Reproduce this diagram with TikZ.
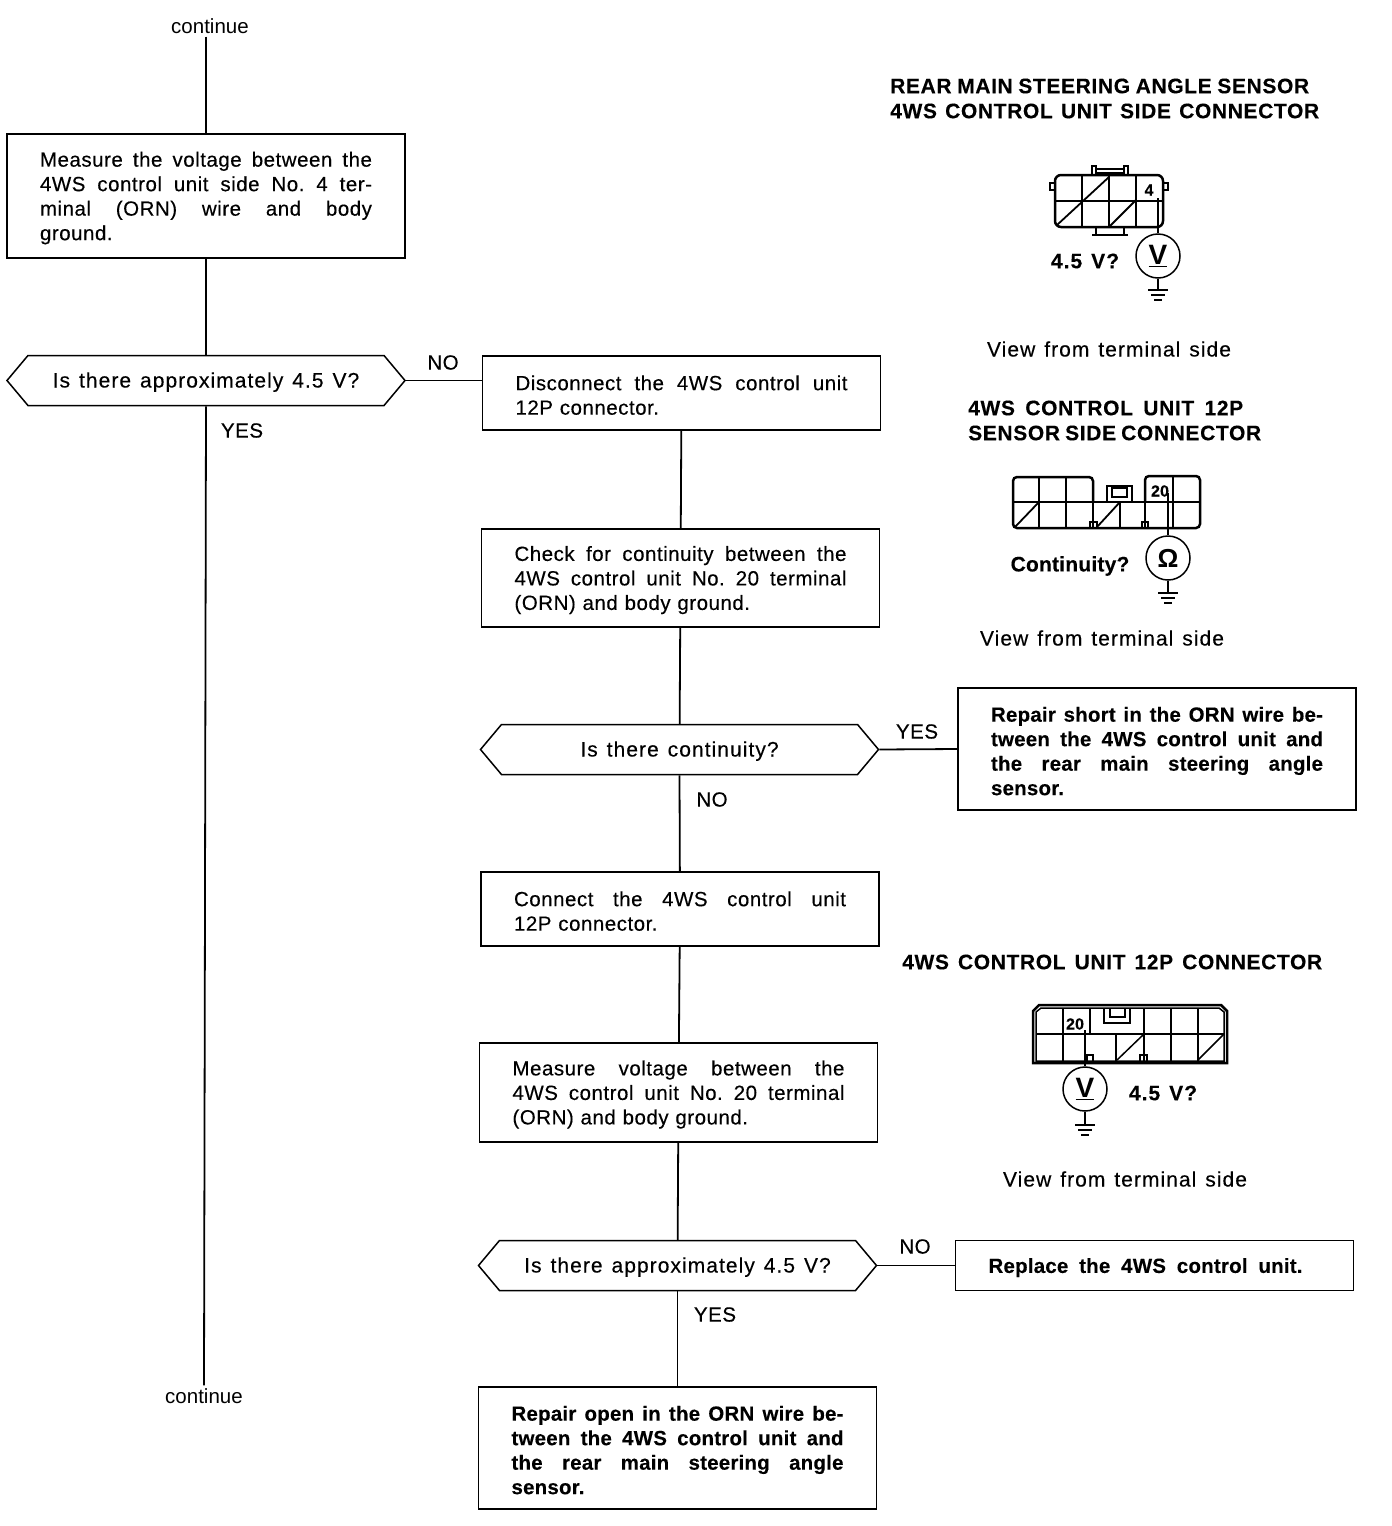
\documentclass[tikz,border=0pt]{standalone}
\usepackage{fontspec}
\setmainfont{Liberation Sans}[LetterSpace=2.5, FakeBold=0.3, BoldFeatures={LetterSpace=1, FakeBold=0.2}]
\newfontfamily\widefont{Liberation Sans}[LetterSpace=5, WordSpace=1.3, FakeBold=0.3, BoldFeatures={LetterSpace=5, WordSpace=1.3, FakeBold=0.2}]
\newfontfamily\headfont{Liberation Sans Bold}[LetterSpace=3, FakeBold=0.2]
\newfontfamily\plainfont{Liberation Sans}
\usetikzlibrary{shapes.symbols}

\newcommand{\wline}[2]{\makebox[#1][s]{\frenchspacing\spaceskip=.28em plus 1fil minus .1em\relax #2}}
\newcommand{\jline}[1]{\wline{332pt}{#1}\\}

\tikzset{
  txt/.style={font=\fontsize{20.5}{24.5}\selectfont, inner sep=0pt},
  widetxt/.style={font=\fontsize{21}{24.5}\selectfont\widefont, inner sep=0pt},
  boldtxt/.style={font=\fontsize{20.5}{24.5}\selectfont\bfseries},
  readout/.style={inner sep=0pt, font=\fontsize{21}{24}\selectfont\widefont\bfseries},
  flowbox/.style={draw, line width=1.8pt, txt, text width=332pt, inner xsep=33pt, inner ysep=0pt, align=left,
    execute at begin node={\rule{0pt}{19pt}}},
  askbox/.style={draw, line width=1.5pt, widetxt, signal, signal to=west and east, signal pointer angle=100,
    minimum width=398pt, minimum height=50pt, inner xsep=0pt, text height=14pt, text depth=0pt},
  heading/.style={inner sep=0pt, font=\fontsize{21}{25}\selectfont\headfont, align=left, anchor=west},
  meter/.style={draw, line width=1.5pt, circle, minimum size=44pt, inner sep=0pt, font=\fontsize{28}{28}\selectfont\plainfont\bfseries},
  pin/.style={inner sep=0pt, font=\fontsize{16}{16}\selectfont\bfseries},
  wire/.style={line width=1.8pt},
  heavy wire/.style={line width=2.5pt},
  thin wire/.style={line width=1.5pt}
}

\newcommand{\grnd}[1]{
  \draw[thin wire] (#1) ++(-10,0) -- ++(20,0);
  \draw[thin wire] (#1) ++(-7,5) -- ++(14,0);
  \draw[thin wire] (#1) ++(-4,10) -- ++(8,0);
}

\begin{document}
\begin{tikzpicture}[x=1pt, y=-1pt]
  \useasboundingbox (0,0) rectangle (1392,1526);

  %% left column
  \node[font=\fontsize{20.5}{24}\selectfont\plainfont, inner sep=3pt] (conttop) at (210,26) {continue};
  \node[flowbox, minimum height=124pt] (measure) at (206,196) {%
    \jline{Measure the voltage between the}
    \jline{4WS control unit side No. 4 ter-}
    \jline{minal (ORN) wire and body}
    ground.};
  \node[askbox] (askfour) at (206,380.5) {Is there approximately 4.5 V?};
  \node[font=\fontsize{20.5}{24}\selectfont\plainfont, inner sep=3pt] (contbot) at (204,1396) {continue};
  \node[txt] (noone) at (443,362.5) {NO};
  \node[txt] (yesone) at (242,430.5) {YES};

  %% middle column
  \node[flowbox, minimum height=74pt] (disconnect) at (681.5,393) {%
    \jline{Disconnect the 4WS control unit}
    12P connector.};
  \node[flowbox, minimum height=98pt] (check) at (680.5,578) {%
    \jline{Check for continuity between the}
    \jline{4WS control unit No. 20 terminal}
    (ORN) and body ground.};
  \node[askbox] (askcont) at (679.5,749.5) {Is there continuity?};
  \node[txt] (yestwo) at (917,731.5) {YES};
  \node[txt] (notwo) at (712,799.5) {NO};
  \node[flowbox, minimum height=74pt] (connect) at (680,909) {%
    \jline{Connect the 4WS control unit}
    12P connector.};
  \node[flowbox, minimum height=99pt] (voltage) at (678.5,1092.5) {%
    \jline{Measure voltage between the}
    \jline{4WS control unit No. 20 terminal}
    (ORN) and body ground.};
  \node[askbox] (askvolt) at (677.5,1265.5) {Is there approximately 4.5 V?};
  \node[txt] (nothree) at (915,1246.5) {NO};
  \node[txt] (yesthree) at (715,1314.5) {YES};
  \node[flowbox, minimum height=122pt, boldtxt] (open) at (677.5,1448) {%
    \jline{Repair open in the ORN wire be-}
    \jline{tween the 4WS control unit and}
    \jline{the rear main steering angle}
    sensor.};

  %% right column
  \node[flowbox, minimum height=122pt, boldtxt] (short) at (1157,749) {%
    \jline{Repair short in the ORN wire be-}
    \jline{tween the 4WS control unit and}
    \jline{the rear main steering angle}
    sensor.};
  \node[flowbox, minimum height=50pt, boldtxt] (replace) at (1154.5,1265.5) {\wline{314pt}{Replace the 4WS control unit.}};

  %% connectors of the chart
  \draw[wire] (conttop.south -| measure.north) -- (measure.north);
  \draw[wire] (measure) -- (askfour);
  \draw[wire] (askfour.south) -- (contbot.north);
  \draw[wire] (askfour.east) -- (askfour.east -| disconnect.west);
  \draw[wire] (disconnect) -- (check);
  \draw[wire] (check) -- (askcont);
  \draw[wire] (askcont.east) -- (short.west);
  \draw[wire] (askcont.south) -- (connect);
  \draw[wire] (connect) -- (voltage);
  \draw[wire] (voltage) -- (askvolt);
  \draw[wire] (askvolt.east) -- (replace.west);
  \draw[wire] (askvolt.south) -- (open);

  %% rear sensor connector
  \node[heading] (headone) at (890,98.5) {\wline{419pt}{REAR MAIN STEERING ANGLE SENSOR}\\\wline{429pt}{4WS CONTROL UNIT SIDE CONNECTOR}};
  \draw[heavy wire, rounded corners=6pt] (1055,227) rectangle (1163,175);
  \draw[thin wire] (1055,201) -- (1163,201);
  \foreach \x in {1082,1136}{
    \draw[thin wire] (\x,175) -- (\x,227);}
  \draw[heavy wire] (1109,175) -- (1109,227);
  \draw[wire] (1057,225) -- (1109,177);
  \draw[wire] (1110,226) -- (1136,200);
  \draw[heavy wire] (1055,183) -- (1050,183) -- (1050,190) -- (1055,190);
  \draw[heavy wire] (1163,183) -- (1168,183) -- (1168,190) -- (1163,190);
  \draw[heavy wire] (1092,175) -- (1092,166) -- (1096,166) -- (1096,175) (1124,175) -- (1124,166) -- (1128,166) -- (1128,175);
  \draw[thin wire] (1096,169) -- (1124,169) (1096,173) -- (1124,173);
  \draw[heavy wire] (1096,227) -- (1096,234) (1092,235) -- (1128,235) (1124,227) -- (1124,234);
  \node[pin] (pinfour) at (1149,190) {4};
  \node[meter] (meterone) at (1158,256) {\raisebox{-2pt}{\underline{V}}};
  \coordinate (tapone) at (1158,198);
  \coordinate (gndone) at (1158,290);
  \draw[thin wire] (tapone) -- (meterone);
  \draw[thin wire] (meterone) -- (gndone);
  \grnd{gndone}
  \node[readout] (readone) at (1085,261) {4.5 V?};
  \node[widetxt] (viewone) at (1109,349) {View from terminal side};

  %% sensor side connector
  \node[heading] (headtwo) at (968,420.5) {\wline{275pt}{4WS CONTROL UNIT 12P}\\\wline{293pt}{SENSOR SIDE CONNECTOR}};
  \draw[heavy wire, rounded corners=4pt] (1093,502) -- (1093,477) -- (1013,477) -- (1013,528) -- (1200,528) -- (1200,476) -- (1145,476) -- (1145,502);
  \draw[wire] (1013,502) -- (1200,502);
  \foreach \x in {1039,1066}{
    \draw[wire] (\x,477) -- (\x,528);}
  \foreach \x in {1093,1120,1145}{
    \draw[wire] (\x,502) -- (\x,528);}
  \draw[wire] (1173,476) -- (1173,528);
  \draw[wire] (1015,527) -- (1039,502);
  \draw[wire] (1097,527) -- (1120,502);
  \draw[wire] (1107,502) rectangle (1132,486);
  \draw[thin wire] (1112,497) rectangle (1127,488);
  \draw[wire] (1090,528) -- (1090,522) -- (1097,522) -- (1097,528);
  \draw[wire] (1142,528) -- (1142,522) -- (1148,522) -- (1148,528);
  \node[pin] (pintwenty) at (1160,491) {20};
  \node[meter, font=\fontsize{26}{26}\selectfont\plainfont\bfseries] (metertwo) at (1168,558) {Ω};
  \coordinate (taptwo) at (1168,493);
  \coordinate (gndtwo) at (1168,593);
  \draw[thin wire] (taptwo) -- (metertwo);
  \draw[thin wire] (metertwo) -- (gndtwo);
  \grnd{gndtwo}
  \node[inner sep=0pt, font=\fontsize{21}{24}\selectfont\bfseries] (readtwo) at (1070,566) {Continuity?};
  \node[widetxt] (viewtwo) at (1102,638) {View from terminal side};

  %% control unit connector
  \node[heading] (headthree) at (902,962) {\wline{420pt}{4WS CONTROL UNIT 12P CONNECTOR}};
  \draw[heavy wire] (1033,1063) -- (1033,1011) -- (1039,1005) -- (1221,1005) -- (1227,1011) -- (1227,1063) -- cycle;
  \draw[thin wire] (1036,1061) -- (1036,1012) -- (1041,1008) -- (1219,1008) -- (1224,1012) -- (1224,1061) -- cycle;
  \draw[thin wire] (1036,1034) -- (1224,1034);
  \foreach \x in {1063,1144,1171,1198}{
    \draw[thin wire] (\x,1008) -- (\x,1061);}
  \draw[thin wire] (1090,1008) -- (1090,1034);
  \draw[thin wire] (1116,1034) -- (1116,1061);
  \draw[thin wire] (1117,1060) -- (1144,1034);
  \draw[thin wire] (1198,1060) -- (1224,1034);
  \draw[wire] (1104,1008) -- (1104,1023) -- (1130,1023) -- (1130,1008);
  \draw[thin wire] (1110,1008) -- (1110,1017) -- (1125,1017) -- (1125,1008);
  \draw[wire] (1087,1061) -- (1087,1055) -- (1093,1055) -- (1093,1061);
  \draw[wire] (1140,1061) -- (1140,1055) -- (1147,1055) -- (1147,1061);
  \node[pin] (pinthree) at (1075,1024) {20};
  \node[meter] (meterthree) at (1085,1089) {\raisebox{-2pt}{\underline{V}}};
  \coordinate (tapthree) at (1085,1030);
  \coordinate (gndthree) at (1085,1125);
  \draw[thin wire] (tapthree) -- (meterthree);
  \draw[thin wire] (meterthree) -- (gndthree);
  \grnd{gndthree}
  \node[readout] (readthree) at (1163,1093) {4.5 V?};
  \node[widetxt] (viewthree) at (1125,1179) {View from terminal side};
\end{tikzpicture}
\end{document}
